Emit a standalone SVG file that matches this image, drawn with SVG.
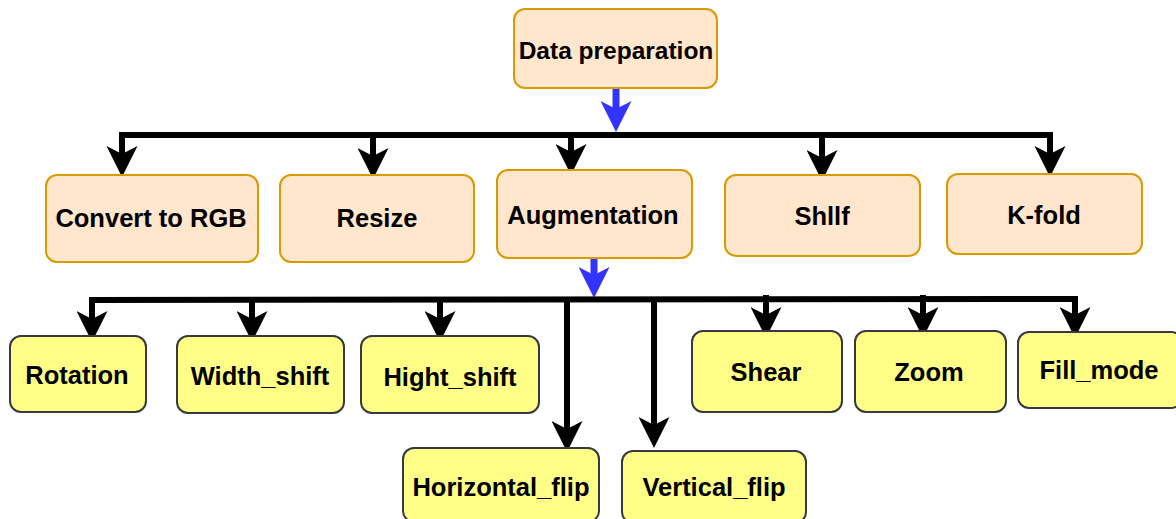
<svg xmlns="http://www.w3.org/2000/svg" width="1176" height="519" viewBox="0 0 1176 519">
<style>
.peach{fill:#ffe6cc;stroke:#d79b00;stroke-width:2}
.yel{fill:#ffff88;stroke:#36393d;stroke-width:2}
.t{font-family:"Liberation Sans",Arial,sans-serif;font-weight:bold;font-size:25.5px;fill:#000;text-anchor:middle;dominant-baseline:central}
.bk{fill:none;stroke:#000;stroke-width:6;stroke-linejoin:miter}
.bl{fill:none;stroke:#3333ff;stroke-width:7}
</style>
<defs>
<marker id="ah" markerUnits="userSpaceOnUse" viewBox="0 0 31 31" refX="8" refY="15.5" markerWidth="31" markerHeight="31" orient="auto">
<path d="M0,0 L31,15.5 L0,31 L8,15.5 Z" fill="#000"/>
</marker>
<marker id="ahb" markerUnits="userSpaceOnUse" viewBox="0 0 31 31" refX="8" refY="15.5" markerWidth="31" markerHeight="31" orient="auto">
<path d="M0,0 L31,15.5 L0,31 L8,15.5 Z" fill="#3333ff"/>
</marker>
</defs>
<g id="connectors">
<path class="bl" d="M616,89 L616,109" marker-end="url(#ahb)"/>
<path class="bk" d="M122,138 L122,135 L1050,135 L1050,138"/>
<path class="bk" d="M122,135 L122,154" marker-end="url(#ah)"/>
<path class="bk" d="M373,135 L373,156" marker-end="url(#ah)"/>
<path class="bk" d="M571,135 L571,152" marker-end="url(#ah)"/>
<path class="bk" d="M822,135 L822,158" marker-end="url(#ah)"/>
<path class="bk" d="M1050,135 L1050,154" marker-end="url(#ah)"/>
<path class="bl" d="M594,258 L594,275" marker-end="url(#ahb)"/>
<path class="bk" d="M92,303 L92,300 L1075,299 L1075,302"/>
<path class="bk" d="M92,300 L92,319" marker-end="url(#ah)"/>
<path class="bk" d="M252,300 L252,319" marker-end="url(#ah)"/>
<path class="bk" d="M440,300 L440,319" marker-end="url(#ah)"/>
<path class="bk" d="M567,300 L567,429" marker-end="url(#ah)"/>
<path class="bk" d="M654,300 L654,425" marker-end="url(#ah)"/>
<path class="bk" d="M766,295 L766,315" marker-end="url(#ah)"/>
<path class="bk" d="M923,295 L923,315" marker-end="url(#ah)"/>
<path class="bk" d="M1075,299 L1075,315" marker-end="url(#ah)"/>
</g>
<g id="data-preparation"><rect class="peach" x="514" y="9" width="203" height="79" rx="11"/><text class="t" x="616" y="50" style="font-size:24.5px">Data preparation</text></g>
<g id="convert-rgb"><rect class="peach" x="46" y="175" width="212" height="87" rx="11"/><text class="t" x="151" y="218">Convert to RGB</text></g>
<g id="resize"><rect class="peach" x="280" y="175" width="194" height="87" rx="11"/><text class="t" x="377" y="218">Resize</text></g>
<g id="augmentation"><rect class="peach" x="497" y="170" width="195" height="88" rx="11"/><text class="t" x="593" y="215">Augmentation</text></g>
<g id="shllf"><rect class="peach" x="725" y="175" width="195" height="81" rx="11"/><text class="t" x="822" y="216">Shllf</text></g>
<g id="kfold"><rect class="peach" x="947" y="174" width="195" height="80" rx="11"/><text class="t" x="1044" y="215">K-fold</text></g>
<g id="rotation"><rect class="yel" x="10" y="336" width="136" height="76" rx="11"/><text class="t" x="77" y="375">Rotation</text></g>
<g id="width-shift"><rect class="yel" x="177" y="336" width="167" height="77" rx="11"/><text class="t" x="260" y="376">Width_shift</text></g>
<g id="hight-shift"><rect class="yel" x="361" y="336" width="178" height="77" rx="11"/><text class="t" x="450" y="377">Hight_shift</text></g>
<g id="horizontal-flip"><rect class="yel" x="403" y="448" width="196" height="74" rx="11"/><text class="t" x="501" y="487">Horizontal_flip</text></g>
<g id="vertical-flip"><rect class="yel" x="622" y="451" width="184" height="72" rx="11"/><text class="t" x="714" y="487">Vertical_flip</text></g>
<g id="shear"><rect class="yel" x="692" y="331" width="150" height="81" rx="11"/><text class="t" x="766" y="372">Shear</text></g>
<g id="zoom"><rect class="yel" x="855" y="331" width="151" height="81" rx="11"/><text class="t" x="929" y="372">Zoom</text></g>
<g id="fill-mode"><rect class="yel" x="1018" y="332" width="164" height="76" rx="11"/><text class="t" x="1099" y="370">Fill_mode</text></g>
</svg>
